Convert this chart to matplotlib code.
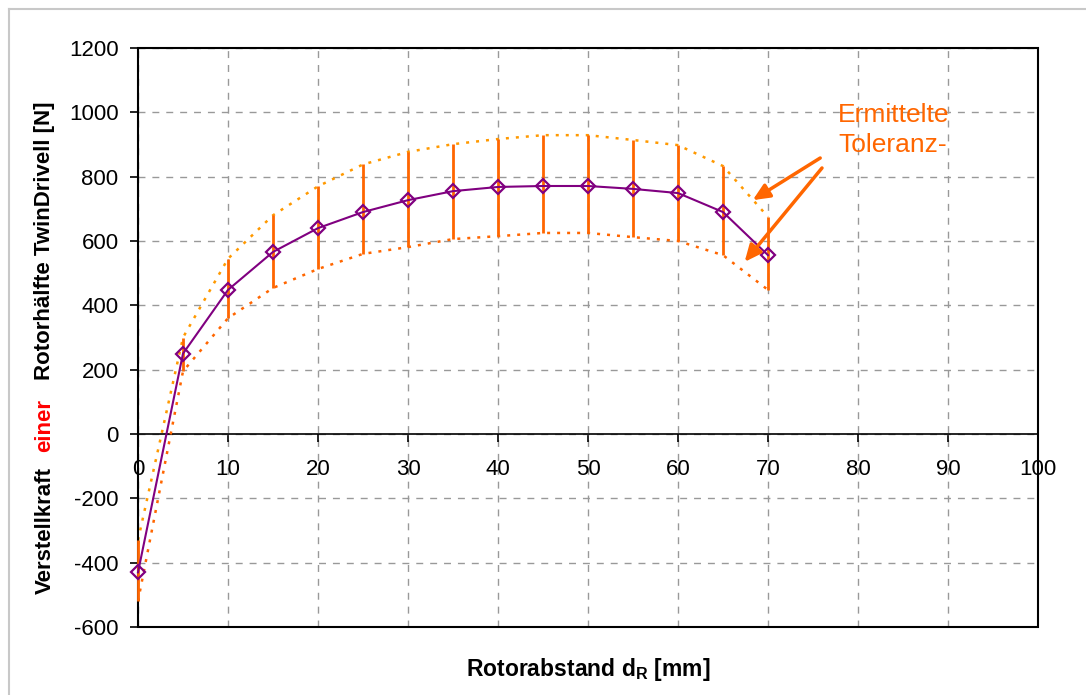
import matplotlib
matplotlib.use('Agg')
import matplotlib.pyplot as plt
from matplotlib.patches import Rectangle
from matplotlib.lines import Line2D

plt.rcParams['font.family'] = ['Liberation Sans', 'DejaVu Sans']
plt.rcParams['axes.unicode_minus'] = False

# Rotorabstand [mm] und Verstellkraft [N]
abstand = [0, 5, 10, 15, 20, 25, 30, 35, 40, 45, 50, 55, 60, 65, 70]
kraft_mittel = [-430, 250, 448, 566, 640, 690, 727, 755, 768, 771, 771, 762, 749, 690, 556]
kraft_max = [-330, 300, 545, 680, 770, 838, 877, 901, 917, 929, 929, 914, 898, 833, 675]
kraft_min = [-520, 195, 360, 454, 513, 560, 581, 606, 615, 625, 625, 612, 600, 556, 448]

x_ticks = list(range(0, 101, 10))
y_ticks = list(range(-600, 1201, 200))

PURPLE = '#800080'
ORANGE = '#FF6600'
ORANGE_LIGHT = '#FF9900'

W, H = 1086, 695
fig = plt.figure(figsize=(W / 100, H / 100), dpi=100)
ax = fig.add_axes([138 / W, 1 - 627 / H, 900 / W, 579 / H])

ax.set_xlim(0, 100)
ax.set_ylim(-600, 1200)

# Gitter
ax.set_xticks(x_ticks)
ax.set_yticks(y_ticks)
ax.grid(True, color='#999999', linestyle=(0, (5, 5)), linewidth=1.0)
ax.set_axisbelow(True)

# Toleranzband
ax.plot(abstand, kraft_max, color=ORANGE_LIGHT, linestyle=(0, (1.2, 2.8)), linewidth=1.8, zorder=3)
ax.plot(abstand, kraft_min, color=ORANGE, linestyle=(0, (1.2, 2.8)), linewidth=1.8, zorder=3)
ax.vlines(abstand, kraft_min, kraft_max, color=ORANGE, linewidth=2, zorder=6.5, clip_on=False)

# Mittelwerte
ax.plot(abstand, kraft_mittel, color=PURPLE, linewidth=1.5, marker='D', markersize=7,
        markerfacecolor='none', markeredgecolor=PURPLE, markeredgewidth=1.6, zorder=7,
        clip_on=False)

# Achsen: x-Achse bei 0, Rahmen rundherum
for side in ['top', 'right', 'left']:
    ax.spines[side].set_visible(False)
ax.spines['bottom'].set_position(('data', 0))
ax.spines['bottom'].set_linewidth(1.2)
ax.add_patch(Rectangle((0, 0), 1, 1, transform=ax.transAxes, fill=False,
                       edgecolor='black', linewidth=1.5, clip_on=False, zorder=6))

ax.tick_params(axis='y', direction='out', length=6, width=1.2, pad=8, labelsize=16)
ax.tick_params(axis='x', direction='out', length=6, width=1.2, pad=12, labelsize=16)

ax.set_xlabel(r'Rotorabstand d$_\mathregular{R}$ [mm]', fontsize=16.5, fontweight='bold', labelpad=0)
ax.xaxis.set_label_coords(0.5, -0.05)

# y-Achsenbeschriftung, "einer" in Rot
fig.text(45 / W, 1 - 530 / H, 'Verstellkraft', rotation=90, ha='center', va='center',
         fontsize=16, fontweight='bold', color='black')
fig.text(45 / W, 1 - 425 / H, 'einer', rotation=90, ha='center', va='center',
         fontsize=16, fontweight='bold', color='red')
fig.text(45 / W, 1 - 241 / H, 'Rotorhälfte TwinDrivell [N]', rotation=90, ha='center', va='center',
         fontsize=16, fontweight='bold', color='black')

# Hinweis auf das Toleranzband
ax.text(77.8, 1030, 'Ermittelte\nToleranz-', color=ORANGE, fontsize=19, ha='left', va='top',
        linespacing=1.35, zorder=8)
arrow = dict(arrowstyle='-|>,head_length=1.0,head_width=0.45', color=ORANGE, lw=2.5, shrinkA=0, shrinkB=0)
ax.annotate('', xy=(68.3, 727), xytext=(75.8, 858), arrowprops=arrow, zorder=8)
ax.annotate('', xy=(67.4, 535), xytext=(76.0, 827), arrowprops=arrow, zorder=8)

# Diagrammrahmen (grau)
fig.add_artist(Line2D([9 / W, 1], [1 - 9 / H, 1 - 9 / H], color='#C8C8C8', linewidth=1.5))
fig.add_artist(Line2D([9 / W, 9 / W], [0, 1 - 9 / H], color='#C8C8C8', linewidth=1.5))

fig.savefig('out.png', dpi=100)
